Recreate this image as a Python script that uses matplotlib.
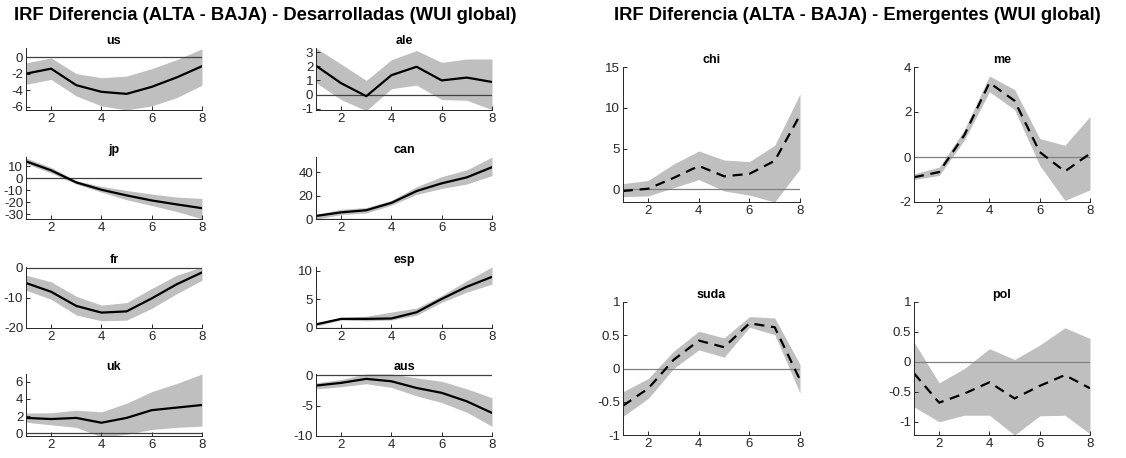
import numpy as np
import matplotlib
matplotlib.use('Agg')
import matplotlib.pyplot as plt
from matplotlib.ticker import FuncFormatter

plt.rcParams['font.family'] = ['Liberation Sans', 'DejaVu Sans']
plt.rcParams['axes.unicode_minus'] = False

# horizons
h = [1, 2, 3, 4, 5, 6, 7, 8]

# desarrolladas: irf, upper band, lower band
us = [-2.0, -1.4, -3.4, -4.2, -4.45, -3.6, -2.45, -1.1]
us_up = [-0.7, -0.1, -2.0, -2.5, -2.3, -1.4, -0.3, 1.0]
us_lo = [-3.3, -2.7, -4.7, -5.9, -6.4, -5.9, -4.9, -3.4]

jp = [13.9, 6.4, -3.6, -9.7, -14.4, -18.6, -21.9, -25.0]
jp_up = [16.7, 8.9, -2.2, -6.9, -10.3, -13.3, -15.8, -16.9]
jp_lo = [12.0, 4.2, -5.0, -11.7, -18.0, -22.8, -27.8, -33.9]

fr = [-5.1, -8.0, -12.7, -14.9, -14.5, -10.2, -5.5, -1.6]
fr_up = [-2.5, -4.7, -9.5, -12.4, -11.6, -6.9, -2.5, 0.2]
fr_lo = [-7.5, -10.5, -15.7, -17.6, -17.4, -13.5, -8.6, -4.2]

uk = [1.8, 1.67, 1.8, 1.24, 1.8, 2.7, 3.0, 3.3]
uk_up = [2.36, 2.4, 2.7, 2.5, 3.5, 4.85, 5.8, 6.9]
uk_lo = [1.3, 1.0, 0.7, -0.4, -0.1, 0.46, 0.7, 0.85]

ale = [2.04, 0.8, -0.12, 1.37, 1.97, 1.0, 1.2, 0.89]
ale_up = [3.3, 2.16, 1.0, 2.47, 3.12, 2.28, 2.52, 2.52]
ale_lo = [0.84, -0.36, -1.15, 0.41, 0.67, -0.36, -0.41, -1.08]

can = [2.6, 5.7, 7.5, 13.8, 23.9, 30.5, 35.6, 44.3]
can_up = [4.0, 8.3, 9.8, 16.0, 27.6, 36.2, 42.0, 52.9]
can_lo = [0.0, 3.7, 5.2, 11.8, 21.0, 26.1, 29.9, 37.1]

esp = [0.63, 1.6, 1.6, 1.67, 2.76, 5.1, 7.24, 8.97]
esp_up = [0.92, 1.84, 2.07, 2.8, 3.5, 5.7, 8.3, 10.7]
esp_lo = [0.34, 1.4, 1.26, 1.4, 2.24, 4.5, 6.3, 7.7]

aus = [-1.7, -1.26, -0.6, -1.0, -2.1, -2.9, -4.3, -6.2]
aus_up = [-1.26, -0.7, 0.2, 0.2, -0.44, -1.0, -2.25, -3.7]
aus_lo = [-2.25, -1.9, -1.4, -2.0, -3.4, -4.5, -6.1, -8.4]

# emergentes
chi = [-0.2, 0.08, 1.4, 2.87, 1.6, 1.9, 3.5, 9.1]
chi_up = [0.7, 1.1, 3.1, 4.7, 3.6, 3.4, 5.4, 11.7]
chi_lo = [-0.9, -0.8, 0.2, 1.2, -0.2, -0.7, -1.55, 2.5]

me = [-0.9, -0.67, 0.97, 3.3, 2.5, 0.22, -0.64, 0.15]
me_up = [-0.75, -0.45, 1.2, 3.6, 3.0, 0.82, 0.52, 1.8]
me_lo = [-1.0, -0.82, 0.75, 2.9, 2.1, -0.37, -1.93, -1.46]

suda = [-0.56, -0.3, 0.13, 0.42, 0.32, 0.68, 0.62, -0.17]
suda_up = [-0.35, -0.15, 0.26, 0.56, 0.46, 0.78, 0.76, 0.06]
suda_lo = [-0.72, -0.45, 0.0, 0.28, 0.17, 0.62, 0.51, -0.37]

pol = [-0.19, -0.68, -0.53, -0.34, -0.61, -0.4, -0.22, -0.44]
pol_up = [0.33, -0.35, -0.11, 0.22, 0.04, 0.28, 0.57, 0.39]
pol_lo = [-0.75, -1.0, -0.89, -0.89, -1.22, -0.9, -0.89, -1.2]

W, H = 1126, 458
fig = plt.figure(figsize=(W / 100, H / 100), dpi=100)


def make_ax(x0, x1, y0, y1):
    # pixel box (top-left origin) -> figure fraction
    return fig.add_axes([x0 / W, 1 - y1 / H, (x1 - x0) / W, (y1 - y0) / H])


def panel(ax, name, irf, up, lo, ylim, yticks, dashed=False, zcol='#404040'):
    ax.fill_between(h, lo, up, color='#bfbfbf', lw=0)
    ax.axhline(0, color=zcol, lw=0.9)
    if dashed:
        ax.plot(h, irf, color='k', lw=1.6, ls=(0, (4.5, 3)))
    else:
        ax.plot(h, irf, color='k', lw=1.6)
    ax.set_xlim(1, 8)
    ax.set_ylim(ylim)
    ax.set_xticks([2, 4, 6, 8])
    ax.set_yticks(yticks)
    ax.yaxis.set_major_formatter(FuncFormatter(lambda v, p: '%g' % v))
    ax.set_title(name, fontsize=9, fontweight='bold', pad=3)
    ax.spines['top'].set_visible(False)
    ax.spines['right'].set_visible(False)
    for s in ['left', 'bottom']:
        ax.spines[s].set_color('#262626')
        ax.spines[s].set_linewidth(0.7)
    ax.tick_params(direction='in', length=3, width=0.7, labelsize=9.5,
                   colors='#262626', pad=2)


left_cols = [(26, 202), (316, 492)]
left_rows = [(48, 110), (157, 219), (267, 328), (374, 436)]

panel(make_ax(*left_cols[0], *left_rows[0]), 'us', us, us_up, us_lo, (-6.4, 1.1), [-6, -4, -2, 0])
panel(make_ax(*left_cols[0], *left_rows[1]), 'jp', jp, jp_up, jp_lo, (-34, 17.5), [-30, -20, -10, 0, 10])
panel(make_ax(*left_cols[0], *left_rows[2]), 'fr', fr, fr_up, fr_lo, (-20, 0.2), [-20, -10, 0])
panel(make_ax(*left_cols[0], *left_rows[3]), 'uk', uk, uk_up, uk_lo, (-0.3, 6.9), [0, 2, 4, 6])
panel(make_ax(*left_cols[1], *left_rows[0]), 'ale', ale, ale_up, ale_lo, (-1.1, 3.3), [-1, 0, 1, 2, 3])
panel(make_ax(*left_cols[1], *left_rows[1]), 'can', can, can_up, can_lo, (0, 53), [0, 20, 40])
panel(make_ax(*left_cols[1], *left_rows[2]), 'esp', esp, esp_up, esp_lo, (0, 10.7), [0, 5, 10])
panel(make_ax(*left_cols[1], *left_rows[3]), 'aus', aus, aus_up, aus_lo, (-10, 0.2), [-10, -5, 0])

right_cols = [(623, 800), (914, 1090)]
right_rows = [(67, 202), (302, 435)]

panel(make_ax(*right_cols[0], *right_rows[0]), 'chi', chi, chi_up, chi_lo, (-1.55, 15), [0, 5, 10, 15], True, '#808080')
panel(make_ax(*right_cols[1], *right_rows[0]), 'me', me, me_up, me_lo, (-2, 4), [-2, 0, 2, 4], True, '#808080')
panel(make_ax(*right_cols[0], *right_rows[1]), 'suda', suda, suda_up, suda_lo, (-1, 1), [-1, -0.5, 0, 0.5, 1], True, '#808080')
panel(make_ax(*right_cols[1], *right_rows[1]), 'pol', pol, pol_up, pol_lo, (-1.22, 1), [-1, -0.5, 0, 0.5, 1], True, '#808080')

fig.text(265 / W, 1 - 16 / H, 'IRF Diferencia (ALTA - BAJA) - Desarrolladas (WUI global)',
         ha='center', va='center', fontsize=13.2, fontweight='bold')
fig.text(857 / W, 1 - 16 / H, 'IRF Diferencia (ALTA - BAJA) - Emergentes (WUI global)',
         ha='center', va='center', fontsize=13.2, fontweight='bold')

fig.savefig('out.png', dpi=100)
